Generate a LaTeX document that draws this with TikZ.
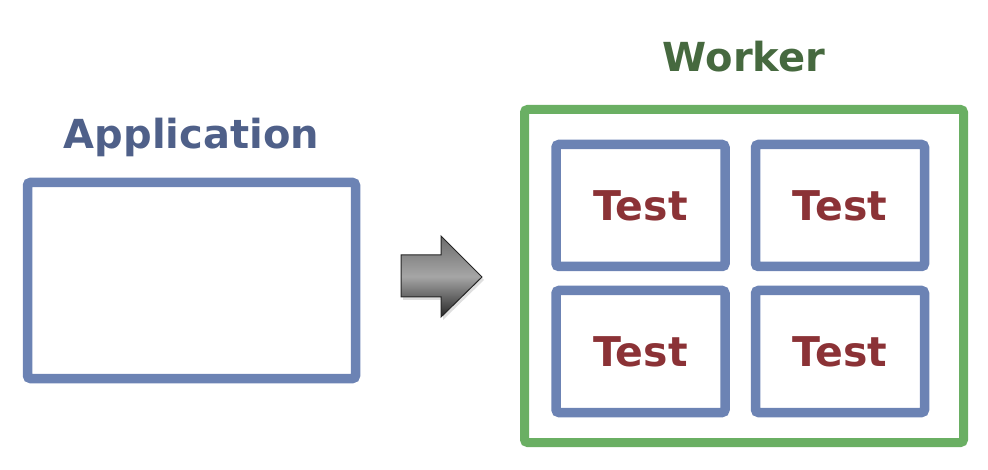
\documentclass[tikz,border=0pt]{standalone}
\usepackage{fontspec}
\setmainfont{DejaVu Sans}
\usetikzlibrary{shadows}

\definecolor{boxblue}{RGB}{108,131,180}
\definecolor{boxgreen}{RGB}{106,175,99}
\definecolor{appblue}{RGB}{79,96,137}
\definecolor{workgreen}{RGB}{70,105,63}
\definecolor{testred}{RGB}{139,50,54}

\begin{document}
\begin{tikzpicture}[x=1pt, y=-1pt,
    box/.style={draw=boxblue, line width=9.5pt, rounded corners=3pt, inner sep=0pt},
    testbox/.style={box, minimum width=169pt, minimum height=122pt,
        font=\fontsize{41}{41}\selectfont\bfseries, text=testred},
    title/.style={inner sep=0pt, font=\fontsize{40}{40}\selectfont\bfseries}]
    \useasboundingbox (0,0) rectangle (988,470);

    % the application
    \node[box, minimum width=328pt, minimum height=196pt] (app) at (191.5, 280.5) {};
    \node[title, text=appblue] (appname) at (191.5, 137) {Application};

    % the worker and its tests
    \node[draw=boxgreen, line width=9pt, rounded corners=3pt,
          minimum width=439pt, minimum height=333pt] (worker) at (744, 276) {};
    \node[title, text=workgreen] (workname) at (744, 57) {Worker};

    \node[testbox] (A) at (640.5, 205.5) {Test};
    \node[testbox] (B) at (840, 205.5) {Test};
    \node[testbox] (C) at (640.5, 351.5) {Test};
    \node[testbox] (D) at (840, 351.5) {Test};

    % block arrow
    \path[drop shadow={shadow xshift=2pt, shadow yshift=-3pt, opacity=0.25},
          draw=black!85, line width=1pt, line join=miter,
          top color=gray!85!black, bottom color=black!85, middle color=gray!70]
        (401,255) -- (441,255) -- (441,236) -- (482,277)
        -- (441,317) -- (441,297) -- (401,297) -- cycle;
\end{tikzpicture}
\end{document}
